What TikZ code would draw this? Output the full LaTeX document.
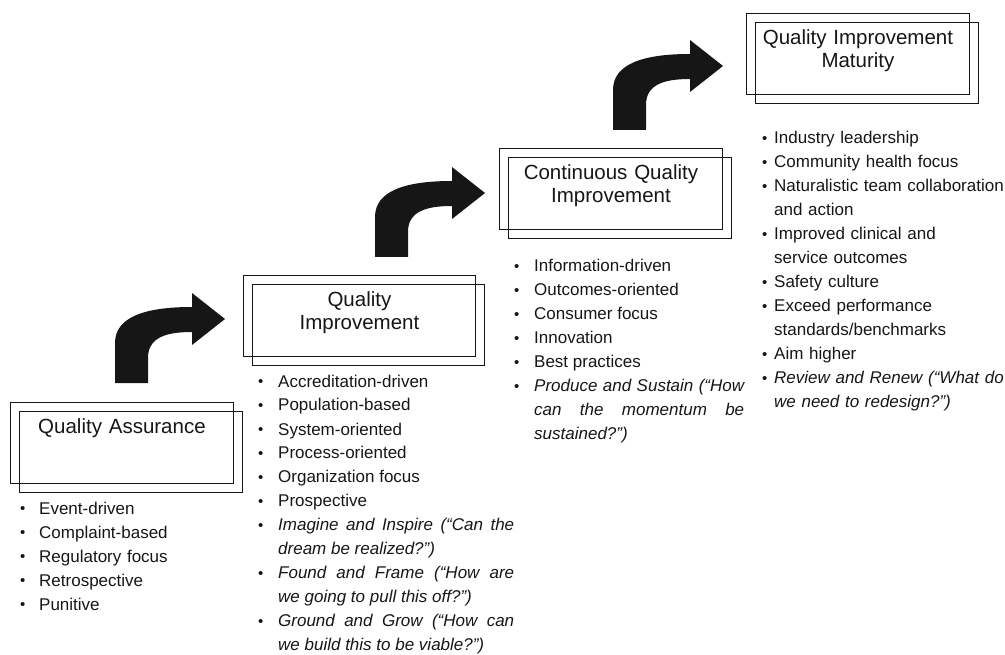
\documentclass[tikz,border=0pt]{standalone}
\definecolor{scanInk}{RGB}{22, 22, 22}
\usepackage{fontspec}
\setmainfont{Liberation Sans}
\usepackage{tikz}
\usetikzlibrary{positioning, shadows}

\newlength{\bulletindent}
\newcommand{\bitem}[1]{\hangindent=\bulletindent\hangafter=1\noindent
  \hbox to \bulletindent{\raisebox{0.5pt}{\fontsize{15}{15}\selectfont\textbullet}\hfil}{#1}\par}

\begin{document}
\begin{tikzpicture}[
    x=1pt, y=-1pt,
    stage/.style={rectangle, draw=scanInk, line width=0.9pt, inner sep=0pt,
      minimum width=223pt, text width=215pt, align=center,
      text height=31pt, text depth=50pt, anchor=north west, text=scanInk,
      font=\fontsize{20.5}{23.5}\selectfont,
      copy shadow={shadow xshift=9pt, shadow yshift=-9pt, draw=scanInk, line width=0.9pt, fill=none}},
    itemlist/.style 2 args={anchor=base west, inner sep=0pt, text width=#1, text=scanInk,
      font=\fontsize{17}{24}\selectfont,
      execute at begin node={\setlength{\bulletindent}{#2}\tolerance=10000\hbadness=10000\hyphenpenalty=10000}},
    bentarrow/.style={fill=scanInk}
  ]
  \useasboundingbox (0,0) rectangle (1005,655);

  % stages
  \node[stage] (qa) at (10,402) {Quality Assurance};
  \node[stage, minimum width=232pt] (qi) at (243,275) {Quality\\Improvement};
  \node[stage] (cqi) at (499,148) {Continuous Quality\\Improvement};
  \node[stage] (qim) at (746,13) {Quality Improvement\\Maturity};

  % bullet lists
  \node[itemlist={210pt}{19pt}, align=left] (qaList) at (20,514) {%
    \bitem{Event-driven}
    \bitem{Complaint-based}
    \bitem{Regulatory focus}
    \bitem{Retrospective}
    \bitem{Punitive}};
  \node[itemlist={256pt}{20pt}, align=justify] (qiList) at (258,387) {%
    \bitem{Accreditation-driven}
    \bitem{Population-based}
    \bitem{System-oriented}
    \bitem{Process-oriented}
    \bitem{Organization focus}
    \bitem{Prospective}
    \bitem{\itshape Imagine and Inspire (``Can the\linebreak dream be realized?'')}
    \bitem{\itshape Found and Frame (``How are\linebreak we going to pull this off?'')}
    \bitem{\itshape Ground and Grow (``How can\linebreak we build this to be viable?'')}};
  \node[itemlist={230pt}{20pt}, align=justify] (cqiList) at (514,272) {%
    \bitem{Information-driven}
    \bitem{Outcomes-oriented}
    \bitem{Consumer focus}
    \bitem{Innovation}
    \bitem{Best practices}
    \bitem{\itshape Produce and Sustain (``How\linebreak can the momentum be\linebreak sustained?'')}};
  \node[itemlist={260pt}{12pt}, align=left] (qimList) at (762,144) {%
    \bitem{Industry leadership}
    \bitem{Community health focus}
    \bitem{Naturalistic team collaboration\newline and action}
    \bitem{Improved clinical and\newline service outcomes}
    \bitem{Safety culture}
    \bitem{Exceed performance\newline standards/benchmarks}
    \bitem{Aim higher}
    \bitem{\itshape Review and Renew (``What do\newline we need to redesign?'')}};

  % bent arrows between the stages
  \foreach \ax/\ay in {115/383, 375/257, 613/130} {
    \begin{scope}[shift={(\ax,\ay)}]
      \fill[bentarrow] (0,0) -- (0,-40) .. controls (0,-66) and (30,-76) .. (77,-76)
        -- (77,-90) -- (110,-64) -- (77,-38) -- (77,-51)
        .. controls (50,-51) and (33,-45) .. (33,-25) -- (33,0) -- cycle;
    \end{scope}
  }
\end{tikzpicture}
\end{document}
